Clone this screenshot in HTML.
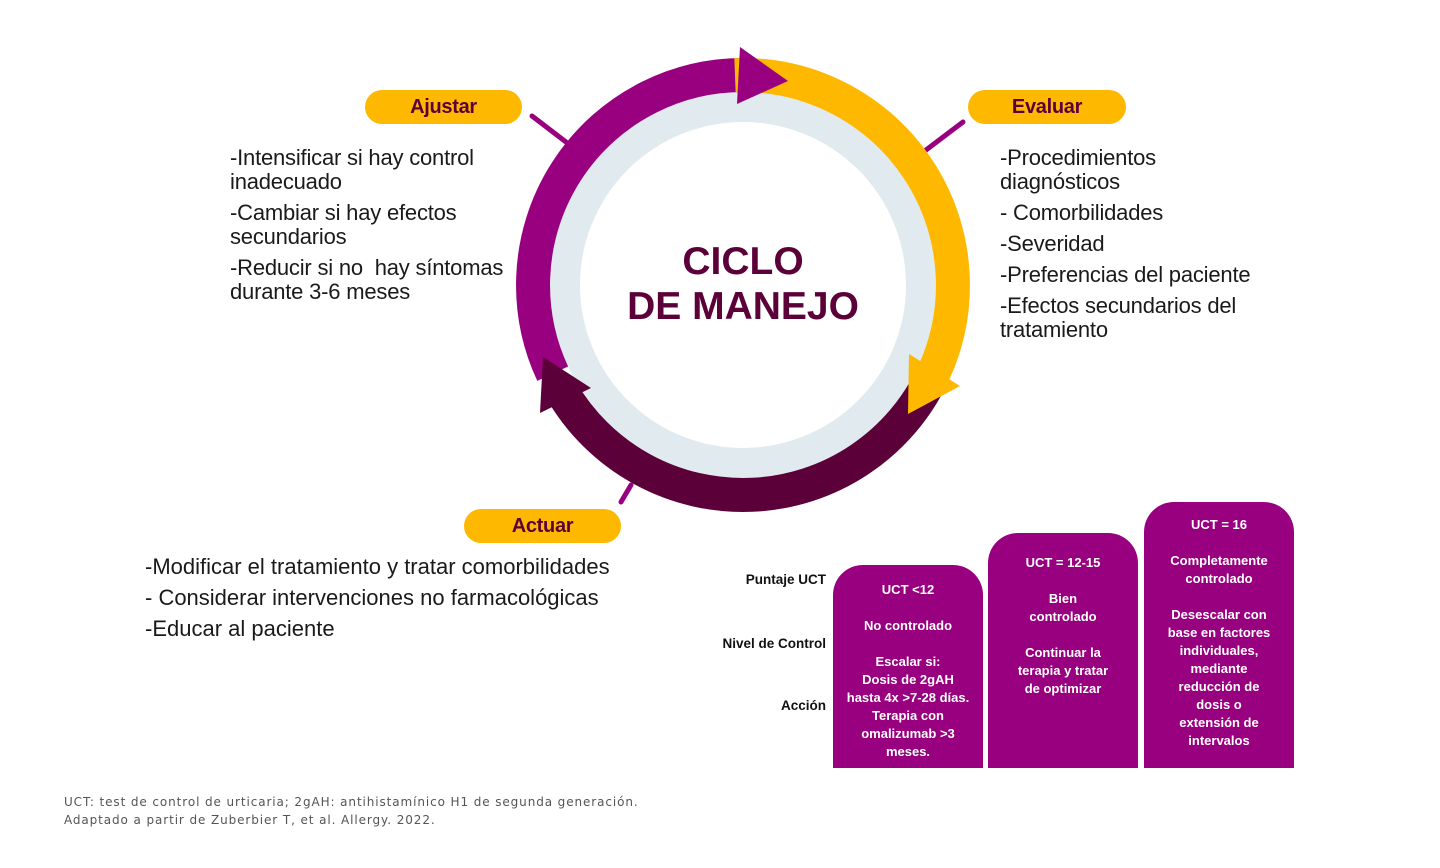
<!DOCTYPE html>
<html><head><meta charset="utf-8"><style>
body{margin:0;width:1440px;height:868px;background:#fff;position:relative;overflow:hidden;font-family:"Liberation Sans",sans-serif}
.pill{position:absolute;height:34px;border-radius:17px;background:#FFB800;color:#5C0039;font-weight:bold;font-size:20px;text-align:center;line-height:34px;letter-spacing:-0.3px}
.t{position:absolute;font-size:22px;line-height:24px;color:#1a1a1a;letter-spacing:-0.2px}
.t p{margin:0 0 7px 0}
.bar{position:absolute;background:#990080;border-radius:30px 30px 0 0;color:#fff;font-weight:bold;font-size:13px;line-height:18px;text-align:center}
.lab{position:absolute;right:614px;font-weight:bold;font-size:13.5px;color:#111}
.foot{position:absolute;left:64px;font-family:"DejaVu Sans",sans-serif;font-size:12px;color:#555;letter-spacing:0.9px}
</style></head><body>
<svg width="1440" height="868" style="position:absolute;left:0;top:0">
<circle cx="743" cy="285" r="178" fill="none" stroke="#E1EAEF" stroke-width="30"/>
<line x1="532" y1="116" x2="566" y2="142" stroke="#990080" stroke-width="5" stroke-linecap="round"/>
<line x1="926" y1="150" x2="963" y2="122" stroke="#990080" stroke-width="5" stroke-linecap="round"/>
<line x1="621" y1="502" x2="631" y2="485" stroke="#990080" stroke-width="5" stroke-linecap="round"/>
<path d="M552.7,373.7 A210,210 0 0 1 745,75" fill="none" stroke="#990080" stroke-width="34"/>
<path d="M735,75.2 A210,210 0 0 1 933.3,373.7" fill="none" stroke="#FFB800" stroke-width="34"/>
<polygon points="740,47 788,81 737,104" fill="#990080"/>
<path d="M933.3,373.7 A210,210 0 0 1 561.1,390" fill="none" stroke="#5C0039" stroke-width="34"/>
<polygon points="909,354 960,386 908,414" fill="#FFB800"/>
<polygon points="543,357 591,388 540,413" fill="#5C0039"/>
<text x="743" y="274" text-anchor="middle" font-family="Liberation Sans" font-weight="bold" font-size="39" fill="#5C0039">CICLO</text>
<text x="743" y="319" text-anchor="middle" font-family="Liberation Sans" font-weight="bold" font-size="39" fill="#5C0039">DE MANEJO</text>
</svg>
<div class="pill" style="left:365px;top:90px;width:157px">Ajustar</div>
<div class="pill" style="left:968px;top:90px;width:158px">Evaluar</div>
<div class="pill" style="left:464px;top:509px;width:157px">Actuar</div>
<div class="t" style="left:230px;top:146px"><p>-Intensificar si hay control<br>inadecuado</p><p>-Cambiar si hay efectos<br>secundarios</p><p>-Reducir si no&nbsp; hay síntomas<br>durante 3-6 meses</p></div>
<div class="t" style="left:1000px;top:146px"><p>-Procedimientos<br>diagnósticos</p><p>- Comorbilidades</p><p>-Severidad</p><p>-Preferencias del paciente</p><p>-Efectos secundarios del<br>tratamiento</p></div>
<div class="t" style="left:145px;top:555px;letter-spacing:0"><p>-Modificar el tratamiento y tratar comorbilidades</p><p>- Considerar intervenciones no farmacológicas</p><p>-Educar al paciente</p></div>
<div class="lab" style="top:572px">Puntaje UCT</div>
<div class="lab" style="top:636px">Nivel de Control</div>
<div class="lab" style="top:698px">Acción</div>
<div class="bar" style="left:833px;top:565px;width:150px;height:203px;padding-top:16px;box-sizing:border-box">UCT &lt;12<br><br>No controlado<br><br>Escalar si:<br>Dosis de 2gAH<br>hasta 4x &gt;7-28 días.<br>Terapia con<br>omalizumab &gt;3<br>meses.</div>
<div class="bar" style="left:988px;top:533px;width:150px;height:235px;padding-top:21px;box-sizing:border-box">UCT = 12-15<br><br>Bien<br>controlado<br><br>Continuar la<br>terapia y tratar<br>de optimizar</div>
<div class="bar" style="left:1144px;top:502px;width:150px;height:266px;padding-top:14px;box-sizing:border-box">UCT = 16<br><br>Completamente<br>controlado<br><br>Desescalar con<br>base en factores<br>individuales,<br>mediante<br>reducción de<br>dosis o<br>extensión de<br>intervalos</div>
<div class="foot" style="top:795px">UCT: test de control de urticaria; 2gAH: antihistamínico H1 de segunda generación.</div>
<div class="foot" style="top:813px">Adaptado a partir de Zuberbier T, et al. Allergy. 2022.</div>
</body></html>
